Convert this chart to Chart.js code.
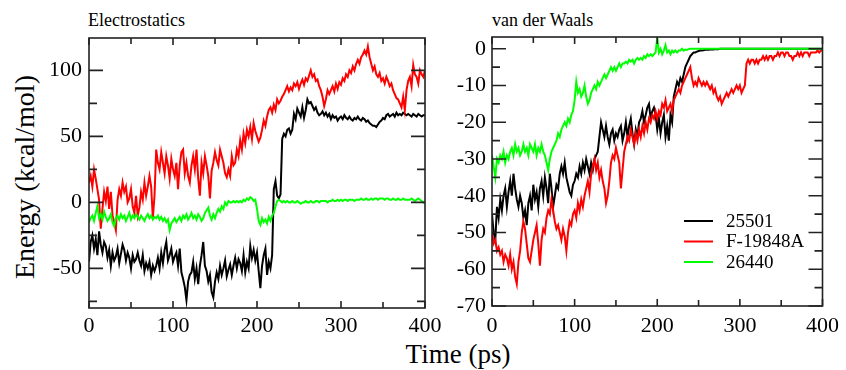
<!DOCTYPE html>
<html>
<head>
<meta charset="utf-8">
<script src="https://cdn.jsdelivr.net/npm/chart.js@4"></script>
<style>
body{margin:0;background:#fff;width:846px;height:370px;position:relative;overflow:hidden;font-family:"Liberation Serif","Times New Roman",Tinos,"DejaVu Serif",serif;color:#000}
canvas{position:absolute;top:0}
#c1{left:0}
#c2{left:440px}
.lbl{position:absolute;white-space:nowrap}
#t1{left:88px;top:11px;font-size:18px;line-height:18px}
#t2{left:492px;top:11px;font-size:18px;line-height:18px}
#ylab{left:25px;top:177px;font-size:28px;line-height:28px;transform:translate(-50%,-50%) rotate(-90deg)}
#xlab{left:458px;top:341px;font-size:27px;line-height:27px;transform:translateX(-50%)}
</style>
</head>
<body>
<div class="lbl" id="t1">Electrostatics</div>
<div class="lbl" id="t2">van der Waals</div>
<div class="lbl" id="ylab">Energy (kcal/mol)</div>
<div class="lbl" id="xlab">Time (ps)</div>
<canvas id="c1" width="450" height="370"></canvas>
<canvas id="c2" width="406" height="370"></canvas>
<script>
// sampling grid, ps
const times = Array.from({length: 201}, (_, i) => i * 2);

const seriesNames = ["25501", "F-19848A", "26440"];
const seriesColors = ["#000000", "#ff0000", "#00ff00"];

// Electrostatics (kcal/mol)
const elecBlack = [
-45,-30,-25,-35,-28,-40,-22,-32,-38,-30,
-33,-42,-36,-48,-38,-44,-41,-35,-46,-39,
-32,-36,-44,-38,-42,-50,-40,-45,-43,-38,
-44,-48,-40,-52,-46,-50,-45,-55,-48,-52,
-48,-42,-50,-38,-46,-36,-30,-44,-40,-35,
-45,-41,-38,-48,-35,-53,-58,-64,-74,-60,
-55,-53,-45,-58,-50,-62,-48,-40,-30,-48,
-52,-60,-55,-68,-72,-60,-53,-58,-48,-55,
-50,-44,-56,-51,-47,-55,-48,-42,-50,-43,
-46,-52,-40,-53,-45,-50,-33,-42,-36,-44,
-38,-52,-65,-48,-40,-35,-55,-45,-50,-40,
10,16,5,3,6,48,52,50,55,56,
52,55,67,63,71,68,65,72,64,70,
78,75,76,73,70,72,68,66,67,69,
66,68,65,67,63,66,64,65,62,64,
65,63,66,64,63,65,63,62,64,63,
65,63,62,64,63,61,62,60,59,58,
58,57,59,61,62,64,63,66,67,65,
66,67,65,68,66,67,66,68,67,66,
67,66,65,67,66,65,67,66,65,66,
66];
const elecRed = [
15,20,12,25,18,10,2,-20,-5,8,
1,12,-5,8,-10,-15,-21,2,10,5,
15,8,12,0,3,10,-3,-8,5,-10,
-4,8,2,15,5,12,20,12,-12,5,
40,30,25,38,30,22,35,28,18,33,
25,20,30,10,28,38,40,22,30,20,
15,28,35,25,40,18,5,30,22,35,
28,20,3,24,30,38,32,28,40,35,
30,22,19,25,20,35,28,30,40,35,
47,40,52,45,55,50,57,48,60,54,
50,46,49,55,62,58,65,70,72,68,
74,70,78,75,77,80,82,85,88,84,
87,85,90,88,91,86,90,93,89,94,
92,96,100,95,97,92,93,88,85,80,
73,78,85,82,85,88,84,90,86,91,
89,94,92,97,95,100,98,103,100,105,
108,105,110,112,115,112,118,110,105,100,
103,97,95,98,92,94,90,95,92,88,
90,85,82,79,78,75,72,80,70,85,
92,95,88,104,97,95,90,100,97,95,
100];
const elecGreen = [
-15,-12,-10,-14,-8,-3,-12,-9,-13,-7,
-11,-14,-12,-9,-15,-18,-12,-10,-13,-9,
-12,-10,-14,-11,-8,-13,-10,-12,-9,-11,
-13,-10,-12,-14,-11,-9,-12,-10,-13,-11,
-12,-10,-13,-11,-14,-12,-15,-13,-21,-16,
-14,-12,-15,-13,-11,-14,-10,-12,-9,-13,
-11,-8,-12,-10,-13,-9,-11,-14,-12,-8,
-6,-4,-10,-13,-9,-12,-8,-5,-7,-3,
-5,0,-2,1,0,0,1,0,1,0,
1,0,2,1,3,2,4,3,1,2,
-5,-14,-17,-12,-15,-13,-16,-11,-14,-10,
-8,-3,1,2,1,0,1,0,1,0,
0,1,0,0,1,0,-1,0,0,1,
0,0,1,0,0,1,1,0,1,1,
1,1,0,1,1,2,1,1,2,1,
2,1,2,2,1,2,2,2,1,2,
2,2,3,2,2,3,2,2,3,2,
3,3,2,3,3,3,2,3,3,2,
2,3,2,2,3,2,2,3,2,2,
2,2,3,2,1,2,3,2,1,0,
0];

// van der Waals (kcal/mol)
const vdwBlack = [
-45,-50,-52,-43,-46,-41,-44,-40,-38,-43,
-39,-36,-40,-34,-38,-41,-43,-40,-42,-46,
-44,-48,-42,-40,-44,-37,-41,-39,-43,-38,
-36,-40,-35,-38,-42,-34,-38,-43,-40,-37,
-38,-34,-32,-34,-31,-35,-37,-39,-40,-37,
-36,-34,-35,-32,-34,-31,-33,-30,-32,-34,
-31,-33,-30,-29,-28,-24,-20,-22,-24,-21,
-24,-26,-23,-22,-25,-23,-24,-22,-21,-25,
-23,-20,-24,-21,-19,-23,-26,-22,-24,-20,
-19,-17,-20,-18,-16,-15,-19,-17,-16,-18,
-22,-19,-23,-20,-18,-24,-21,-25,-18,-20,
-13,-11,-9,-10,-8,-9,-7,-5,-4,-3,
-2,-1.5,-1,-1,-0.8,-0.6,-0.5,-0.5,-0.4,-0.3,
-0.3,-0.3,-0.2,-0.2,-0.2,-0.1,-0.1,-0.1,0,0,
0,0,0,0,0,0,0,0,0,0,
0,0,0,0,0,0,0,0,0,0,
0,0,0,0,0,0,0,0,0,0,
0,0,0,0,0,0,0,0,0,0,
0,0,0,0,0,0,0,0,0,0,
0,0,0,0,0,0,0,0,0,0,
0];
const vdwRed = [
-50,-53,-52,-55,-54,-56,-55,-58,-56,-57,
-59,-56,-60,-58,-62,-64,-58,-55,-50,-47,
-49,-53,-57,-58,-55,-52,-50,-48,-53,-59,
-52,-49,-50,-46,-44,-45,-41,-44,-47,-49,
-48,-50,-52,-49,-51,-55,-50,-47,-48,-45,
-44,-46,-42,-44,-41,-43,-40,-38,-36,-39,
-34,-32,-30,-33,-31,-35,-33,-36,-38,-42,
-40,-36,-31,-29,-30,-27,-29,-31,-38,-33,
-28,-26,-24,-25,-22,-24,-26,-23,-25,-22,
-24,-21,-23,-20,-22,-19,-20,-18,-19,-17,
-19,-17,-18,-15,-16,-14,-17,-16,-15,-17,
-14,-13,-12,-11,-12,-10,-9,-8,-7,-6,
-5,-8,-10,-9,-10,-8,-9,-10,-9,-10,
-9,-10,-11,-10,-12,-11,-13,-14,-13,-15,
-14,-13,-12,-13,-12,-11,-12,-11,-10,-11,
-10,-12,-11,-10,-4,-3,-4,-3,-3,-4,
-3,-4,-3,-3,-2,-3,-2,-3,-2,-2,
-3,-2,-2,-1,-2,-1,-1,-2,-1,-1,
-2,-2,-3,-2,-2,-1,-2,-1,-2,-1,
-1,-1,-2,-1,-1,-1,-1,-0.5,-1,-0.5,
-0.5];
const vdwGreen = [
-29,-32,-35,-30,-31,-29,-30,-28,-31,-29,
-30,-28,-27,-29,-26,-28,-27,-29,-28,-26,
-28,-27,-29,-26,-27,-28,-26,-29,-27,-28,
-26,-28,-29,-31,-33,-30,-28,-27,-26,-25,
-23,-24,-22,-21,-20,-21,-19,-20,-18,-17,
-14,-9,-12,-11,-13,-12,-10,-13,-15,-14,
-12,-11,-10,-11,-9,-10,-9,-8,-7,-8,
-7,-6,-5,-6,-5,-6,-5,-4,-5,-4,
-4,-3.5,-4,-3,-3.5,-3,-4,-3,-2.5,-3,
-2.5,-3,-2,-2.5,-1.5,-2,-1.5,-2,-1.5,-1,
3,-1,0,-1.5,-0.5,1,-1,-0.5,-1.5,-0.5,
-1,-0.5,-1,-0.5,-0.5,0,-0.5,-0.2,-0.3,-0.1,
0,0,0,0,0,0,0,0,0,0,
0,0,0,0,0,0,0,0,0,0,
0,0,0,0,0,0,0,0,0,0,
0,0,0,0,0,0,0,0,0,0,
0,0,0,0,0,0,0,0,0,0,
0,0,0,0,0,0,0,0,0,0,
0,0,0,0,0,0,0,0,0,0,
0,0,0,0,0,0,0,0,0,0,
0];

// ticks
const xMajor = [0, 100, 200, 300, 400];
const xMinor = [50, 150, 250, 350];
const yMajorL = [-50, 0, 50, 100];
const yMinorL = [-75, -25, 25, 75];
const yMajorR = [-70, -60, -50, -40, -30, -20, -10, 0];
const yMinorR = [-65, -55, -45, -35, -25, -15, -5];

const serif = "'Liberation Serif', 'Times New Roman', Tinos, 'DejaVu Serif', serif";

// box + inward tick marks on all four sides
const frame = {
  id: 'frame',
  afterDraw(chart, args, opts) {
    const {ctx, chartArea: a, scales: {x, y}} = chart;
    ctx.save();
    ctx.strokeStyle = '#222';
    ctx.lineWidth = 1.6;
    ctx.beginPath();
    const xt = (v, len) => {
      const p = x.getPixelForValue(v);
      ctx.moveTo(p, a.bottom); ctx.lineTo(p, a.bottom - len);
      ctx.moveTo(p, a.top); ctx.lineTo(p, a.top + len);
    };
    const yt = (v, len) => {
      const p = y.getPixelForValue(v);
      ctx.moveTo(a.left, p); ctx.lineTo(a.left + len, p);
      ctx.moveTo(a.right, p); ctx.lineTo(a.right - len, p);
    };
    xMajor.forEach(v => xt(v, 7));
    xMinor.forEach(v => xt(v, 6));
    opts.yMajor.forEach(v => yt(v, 14));
    opts.yMinor.forEach(v => yt(v, 8));
    ctx.stroke();
    ctx.strokeRect(a.left, a.top, a.right - a.left, a.bottom - a.top);
    ctx.restore();

    if (opts.legend) {
      ctx.save();
      ctx.font = "19px " + serif;
      ctx.textBaseline = 'middle';
      ctx.fillStyle = '#000';
      chart.data.datasets.forEach((ds, i) => {
        const ly = 221 + i * 20.5;
        ctx.strokeStyle = ds.borderColor;
        ctx.lineWidth = 2;
        ctx.beginPath();
        ctx.moveTo(244, ly); ctx.lineTo(273, ly);
        ctx.stroke();
        ctx.fillText(ds.label, 286, ly + 1);
      });
      ctx.restore();
    }
  }
};

function makeSets(vals) {
  return vals.map((arr, i) => ({
    label: seriesNames[i],
    data: arr.map((v, j) => ({x: times[j], y: v})),
    borderColor: seriesColors[i],
    borderWidth: 2,
    pointRadius: 0,
    fill: false,
    tension: 0,
    order: 3 - i
  }));
}

function makeChart(id, sets, cfg) {
  return new Chart(document.getElementById(id), {
    type: 'line',
    data: {datasets: makeSets(sets)},
    plugins: [frame],
    options: {
      responsive: false,
      animation: false,
      layout: {autoPadding: false, padding: {left: 0, top: cfg.top, right: cfg.right, bottom: 0}},
      plugins: {
        legend: {display: false},
        tooltip: {enabled: false},
        frame: {yMajor: cfg.yMajor, yMinor: cfg.yMinor, legend: cfg.legend}
      },
      scales: {
        x: {
          type: 'linear', min: 0, max: 400,
          afterBuildTicks: s => { s.ticks = xMajor.map(v => ({value: v})); },
          afterFit: s => { s.height = cfg.xh; },
          grid: {display: false, drawTicks: false},
          border: {display: false},
          ticks: {padding: cfg.xpad, maxRotation: 0, color: '#000', font: {family: serif, size: 22}}
        },
        y: {
          type: 'linear', min: cfg.min, max: cfg.max,
          afterBuildTicks: s => { s.ticks = cfg.yMajor.map(v => ({value: v})); },
          afterFit: s => { s.width = cfg.yw; },
          grid: {display: false, drawTicks: false},
          border: {display: false},
          ticks: {padding: cfg.ypad, color: '#000', font: {family: serif, size: 22}}
        }
      }
    }
  });
}

makeChart('c1', [elecBlack, elecRed, elecGreen], {
  top: 38, right: 25, xh: 62, yw: 89, min: -80, max: 124.5,
  yMajor: yMajorL, yMinor: yMinorL, xpad: 5, ypad: 7, legend: false
});

makeChart('c2', [vdwBlack, vdwRed, vdwGreen], {
  top: 37, right: 19, xh: 64, yw: 52, min: -70, max: 3.2,
  yMajor: yMajorR, yMinor: yMinorR, xpad: 7, ypad: 6, legend: true
});
</script>
</body>
</html>
